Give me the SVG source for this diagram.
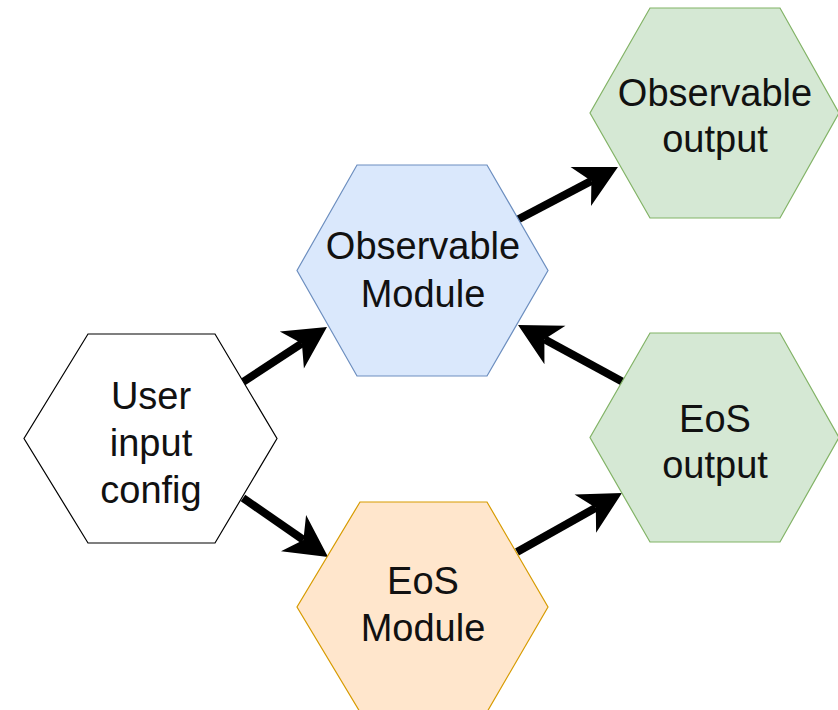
<svg xmlns="http://www.w3.org/2000/svg" width="838" height="710" viewBox="0 0 838 710">
  <style>
    .hex { stroke-width: 1.2; stroke-linejoin: miter; }
    .white { fill: #ffffff; stroke: #000000; }
    .blue { fill: #dae8fc; stroke: #6c8ebf; }
    .green { fill: #d5e8d4; stroke: #82b366; }
    .orange { fill: #ffe6cc; stroke: #d79b00; }
    .label { font-family: "Liberation Sans", Arial, sans-serif; font-size: 38px; fill: #111111; text-anchor: middle; }
    .edge { stroke: #000000; stroke-width: 8; fill: none; marker-end: url(#head); }
  </style>
  <defs>
    <!-- classic notched arrowhead; origin sits at the notch where the line ends -->
    <marker id="head" markerUnits="userSpaceOnUse" orient="auto" overflow="visible" markerWidth="60" markerHeight="60" refX="0" refY="0">
      <path d="M30,0 L-12,-22 L0,0 L-12,22 Z" fill="#000000"/>
    </marker>
  </defs>
  <rect width="838" height="710" fill="#ffffff"/>

  <g id="connectors">
    <line class="edge" x1="243" y1="382" x2="301.9" y2="343.4"/>
    <line class="edge" x1="243" y1="498" x2="303.4" y2="539.9"/>
    <line class="edge" x1="517" y1="220" x2="591.4" y2="180.9"/>
    <line class="edge" x1="623" y1="382" x2="544.4" y2="339.3"/>
    <line class="edge" x1="517" y1="552" x2="595.8" y2="507.7"/>
  </g>

  <g id="user-input-config">
    <polygon class="hex white" points="88,334 215,334 277,438.5 215,543 88,543 24,438.5"/>
    <text class="label" x="151" y="409">User</text>
    <text class="label" x="151" y="456">input</text>
    <text class="label" x="151" y="503">config</text>
  </g>

  <g id="observable-module">
    <polygon class="hex blue" points="357,165 487,165 548,270.5 487,376 357,376 297,270.5"/>
    <text class="label" x="423" y="259">Observable</text>
    <text class="label" x="423" y="307">Module</text>
  </g>

  <g id="eos-module">
    <polygon class="hex orange" points="360,502 487,502 548,607 487,712 360,712 297,607"/>
    <text class="label" x="423" y="594">EoS</text>
    <text class="label" x="423" y="641">Module</text>
  </g>

  <g id="observable-output">
    <polygon class="hex green" points="650,8 780,8 839,113 780,218 650,218 590,113"/>
    <text class="label" x="715" y="106">Observable</text>
    <text class="label" x="715" y="152">output</text>
  </g>

  <g id="eos-output">
    <polygon class="hex green" points="650,333 780,333 839,437.5 780,542 650,542 590,437.5"/>
    <text class="label" x="715" y="432">EoS</text>
    <text class="label" x="715" y="478">output</text>
  </g>
</svg>
